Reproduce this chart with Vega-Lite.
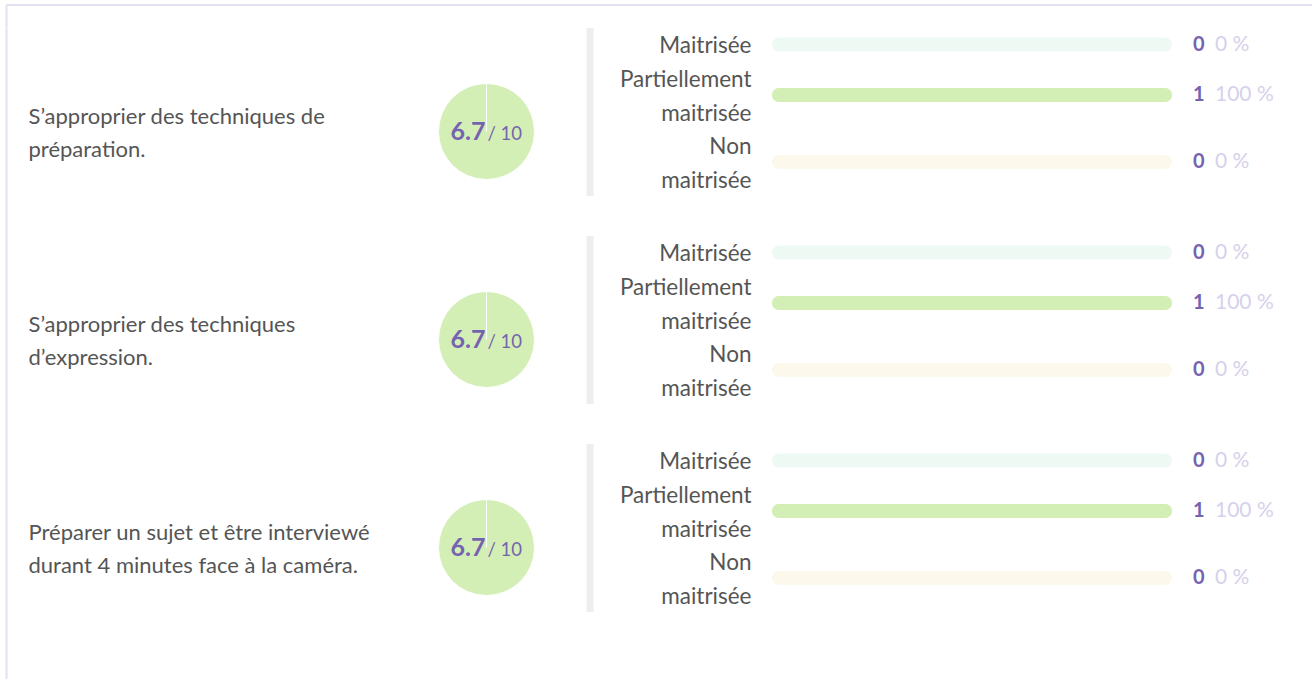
{
  "$schema": "https://vega.github.io/schema/vega-lite/v6.json",
  "background": "#ffffff",
  "padding": {"left": 6, "top": 4.5, "right": 0, "bottom": 0},
  "datasets": {
    "comp": [
      {"item": 1, "competence": "S’approprier des techniques de\npréparation.", "score": 6.7},
      {"item": 2, "competence": "S’approprier des techniques\nd’expression.", "score": 6.7},
      {"item": 3, "competence": "Préparer un sujet et être interviewé\ndurant 4 minutes face à la caméra.", "score": 6.7}
    ],
    "res": [
      {"item": 1, "niveau": "Maitrisée", "nombre": 0, "part": 0},
      {"item": 1, "niveau": "Partiellement maitrisée", "nombre": 1, "part": 1},
      {"item": 1, "niveau": "Non maitrisée", "nombre": 0, "part": 0},
      {"item": 2, "niveau": "Maitrisée", "nombre": 0, "part": 0},
      {"item": 2, "niveau": "Partiellement maitrisée", "nombre": 1, "part": 1},
      {"item": 2, "niveau": "Non maitrisée", "nombre": 0, "part": 0},
      {"item": 3, "niveau": "Maitrisée", "nombre": 0, "part": 0},
      {"item": 3, "niveau": "Partiellement maitrisée", "nombre": 1, "part": 1},
      {"item": 3, "niveau": "Non maitrisée", "nombre": 0, "part": 0}
    ]
  },
  "spacing": -2,
  "bounds": "full",
  "vconcat": [
    {"width": 1306, "height": 22.5, "data": {"name": "comp"}, "transform": [{"filter": "datum.item == 0"}],
     "mark": {"type": "point", "opacity": 0},
     "encoding": {
       "x": {"datum": 0, "type": "quantitative", "axis": {"orient": "top", "domainColor": "#e3e0f1", "domainWidth": 2, "ticks": false, "labels": false, "grid": false, "title": null}},
       "y": {"datum": 0, "type": "quantitative", "axis": {"orient": "left", "domainColor": "#e3e0f1", "domainWidth": 2, "ticks": false, "labels": false, "grid": false, "title": null}}}},
    {
      "spacing": 237.5, "bounds": "flush",
      "hconcat": [
        {"width": 195, "height": 208, "data": {"name": "comp"}, "transform": [{"filter": "datum.item == 1"}],
         "mark": {"type": "point", "opacity": 0},
         "encoding": {"y": {"field": "competence", "type": "nominal", "axis": {"orient": "left", "domainColor": "#e3e0f1", "domainWidth": 2, "ticks": false, "title": null, "labelAlign": "left", "labelPadding": -22, "labelOffset": -15.5, "labelBaseline": "middle", "labelFontSize": 22, "labelColor": "#555555", "labelLineHeight": 33, "labelLimit": 1000, "labelExpr": "split(datum.value, '\\n')"}}}},
        {
          "width": 96, "height": 208,
          "layer": [
            {"data": {"name": "res"}, "transform": [{"filter": "datum.item == 1"}],
             "mark": {"type": "arc", "radius": 48, "stroke": "#ffffff", "strokeWidth": 1},
             "encoding": {"theta": {"field": "nombre", "type": "quantitative"},
               "color": {"field": "niveau", "type": "nominal", "scale": {"domain": ["Maitrisée", "Partiellement maitrisée", "Non maitrisée"], "range": ["#bfe8d6", "#d4efb5", "#f8e7a8"]}, "legend": null}}},
            {"data": {"name": "comp"}, "transform": [{"filter": "datum.item == 1"}],
             "mark": {"type": "text", "align": "right", "baseline": "alphabetic", "dx": -1, "dy": 8.5, "fontSize": 25, "fontWeight": "bold", "color": "#7464b0"},
             "encoding": {"text": {"field": "score", "type": "quantitative", "format": ".1f"}}},
            {"data": {"name": "comp"}, "transform": [{"filter": "datum.item == 1"}],
             "mark": {"type": "text", "align": "left", "baseline": "alphabetic", "dx": 1, "dy": 8.5, "fontSize": 18.5, "color": "#7464b0", "text": "/ 10"},
             "encoding": {}}
          ]
        },
        {
          "spacing": 0, "bounds": "flush",
          "vconcat": [
            {"width": 400, "height": 34, "data": {"name": "res"}, "transform": [{"filter": "datum.item == 1 && datum.niveau == 'Maitrisée'"}],
             "encoding": {"y": {"field": "niveau", "type": "nominal", "axis": {"orient": "left", "offset": 182.5, "domainColor": "#eeeeee", "domainWidth": 7, "ticks": false, "title": null, "labelPadding": -161.5, "labelAlign": "right", "labelBaseline": "middle", "labelOffset": 1, "labelFontSize": 22.5, "labelColor": "#555555", "labelLineHeight": 33.5, "labelLimit": 1000, "labelExpr": "indexof(datum.value, ' ') < 0 ? datum.value : [slice(datum.value, 0, indexof(datum.value, ' ')) + '\u2009', slice(datum.value, indexof(datum.value, ' ') + 1)]"}}},
             "layer": [
               {"mark": {"type": "bar", "height": 14, "cornerRadius": 7}, "encoding": {"x": {"datum": 0, "type": "quantitative", "scale": {"domain": [0, 1], "nice": false}, "axis": null}, "x2": {"datum": 1}, "color": {"field": "niveau", "type": "nominal", "scale": {"domain": ["Maitrisée", "Partiellement maitrisée", "Non maitrisée"], "range": ["#eef9f4", "#eaf6dc", "#fcf9ec"]}, "legend": null}}},
               {"mark": {"type": "bar", "height": 14, "cornerRadius": 7}, "encoding": {"x": {"field": "part", "type": "quantitative", "stack": null, "axis": null}, "color": {"field": "niveau", "type": "nominal", "scale": {"domain": ["Maitrisée", "Partiellement maitrisée", "Non maitrisée"], "range": ["#bfe8d6", "#d4efb5", "#f8e7a8"]}, "legend": null}}},
               {"mark": {"type": "text", "align": "right", "baseline": "middle", "dx": 32.5, "fontSize": 20, "fontWeight": "bold", "color": "#7464b0"}, "encoding": {"x": {"datum": 1, "type": "quantitative", "axis": null}, "text": {"field": "nombre", "type": "quantitative"}}},
               {"mark": {"type": "text", "align": "left", "baseline": "middle", "dx": 43, "fontSize": 21, "color": "#d6d1ea"}, "encoding": {"x": {"datum": 1, "type": "quantitative", "axis": null}, "text": {"field": "part", "type": "quantitative", "format": ".0%"}}}
             ],
             "resolve": {"scale": {"color": "independent"}}},
            {"width": 400, "height": 67, "data": {"name": "res"}, "transform": [{"filter": "datum.item == 1 && datum.niveau == 'Partiellement maitrisée'"}],
             "encoding": {"y": {"field": "niveau", "type": "nominal", "axis": {"orient": "left", "offset": 182.5, "domainColor": "#eeeeee", "domainWidth": 7, "ticks": false, "title": null, "labelPadding": -161.5, "labelAlign": "right", "labelBaseline": "middle", "labelOffset": -14.75, "labelFontSize": 22.5, "labelColor": "#555555", "labelLineHeight": 33.5, "labelLimit": 1000, "labelExpr": "indexof(datum.value, ' ') < 0 ? datum.value : [slice(datum.value, 0, indexof(datum.value, ' ')) + '\u2009', slice(datum.value, indexof(datum.value, ' ') + 1)]"}}},
             "layer": [
               {"mark": {"type": "bar", "height": 14, "cornerRadius": 7}, "encoding": {"x": {"datum": 0, "type": "quantitative", "scale": {"domain": [0, 1], "nice": false}, "axis": null}, "x2": {"datum": 1}, "color": {"field": "niveau", "type": "nominal", "scale": {"domain": ["Maitrisée", "Partiellement maitrisée", "Non maitrisée"], "range": ["#eef9f4", "#eaf6dc", "#fcf9ec"]}, "legend": null}}},
               {"mark": {"type": "bar", "height": 14, "cornerRadius": 7}, "encoding": {"x": {"field": "part", "type": "quantitative", "stack": null, "axis": null}, "color": {"field": "niveau", "type": "nominal", "scale": {"domain": ["Maitrisée", "Partiellement maitrisée", "Non maitrisée"], "range": ["#bfe8d6", "#d4efb5", "#f8e7a8"]}, "legend": null}}},
               {"mark": {"type": "text", "align": "right", "baseline": "middle", "dx": 32.5, "fontSize": 20, "fontWeight": "bold", "color": "#7464b0"}, "encoding": {"x": {"datum": 1, "type": "quantitative", "axis": null}, "text": {"field": "nombre", "type": "quantitative"}}},
               {"mark": {"type": "text", "align": "left", "baseline": "middle", "dx": 43, "fontSize": 21, "color": "#d6d1ea"}, "encoding": {"x": {"datum": 1, "type": "quantitative", "axis": null}, "text": {"field": "part", "type": "quantitative", "format": ".0%"}}}
             ],
             "resolve": {"scale": {"color": "independent"}}},
            {"width": 400, "height": 67, "data": {"name": "res"}, "transform": [{"filter": "datum.item == 1 && datum.niveau == 'Non maitrisée'"}],
             "encoding": {"y": {"field": "niveau", "type": "nominal", "axis": {"orient": "left", "offset": 182.5, "domainColor": "#eeeeee", "domainWidth": 7, "ticks": false, "title": null, "labelPadding": -161.5, "labelAlign": "right", "labelBaseline": "middle", "labelOffset": -14.75, "labelFontSize": 22.5, "labelColor": "#555555", "labelLineHeight": 33.5, "labelLimit": 1000, "labelExpr": "indexof(datum.value, ' ') < 0 ? datum.value : [slice(datum.value, 0, indexof(datum.value, ' ')) + '\u2009', slice(datum.value, indexof(datum.value, ' ') + 1)]"}}},
             "layer": [
               {"mark": {"type": "bar", "height": 14, "cornerRadius": 7}, "encoding": {"x": {"datum": 0, "type": "quantitative", "scale": {"domain": [0, 1], "nice": false}, "axis": null}, "x2": {"datum": 1}, "color": {"field": "niveau", "type": "nominal", "scale": {"domain": ["Maitrisée", "Partiellement maitrisée", "Non maitrisée"], "range": ["#eef9f4", "#eaf6dc", "#fcf9ec"]}, "legend": null}}},
               {"mark": {"type": "bar", "height": 14, "cornerRadius": 7}, "encoding": {"x": {"field": "part", "type": "quantitative", "stack": null, "axis": null}, "color": {"field": "niveau", "type": "nominal", "scale": {"domain": ["Maitrisée", "Partiellement maitrisée", "Non maitrisée"], "range": ["#bfe8d6", "#d4efb5", "#f8e7a8"]}, "legend": null}}},
               {"mark": {"type": "text", "align": "right", "baseline": "middle", "dx": 32.5, "fontSize": 20, "fontWeight": "bold", "color": "#7464b0"}, "encoding": {"x": {"datum": 1, "type": "quantitative", "axis": null}, "text": {"field": "nombre", "type": "quantitative"}}},
               {"mark": {"type": "text", "align": "left", "baseline": "middle", "dx": 43, "fontSize": 21, "color": "#d6d1ea"}, "encoding": {"x": {"datum": 1, "type": "quantitative", "axis": null}, "text": {"field": "part", "type": "quantitative", "format": ".0%"}}}
             ],
             "resolve": {"scale": {"color": "independent"}}}
          ]
        }
      ]
    },
    {
      "spacing": 237.5, "bounds": "flush",
      "hconcat": [
        {"width": 195, "height": 208, "data": {"name": "comp"}, "transform": [{"filter": "datum.item == 2"}],
         "mark": {"type": "point", "opacity": 0},
         "encoding": {"y": {"field": "competence", "type": "nominal", "axis": {"orient": "left", "domainColor": "#e3e0f1", "domainWidth": 2, "ticks": false, "title": null, "labelAlign": "left", "labelPadding": -22, "labelOffset": -15.5, "labelBaseline": "middle", "labelFontSize": 22, "labelColor": "#555555", "labelLineHeight": 33, "labelLimit": 1000, "labelExpr": "split(datum.value, '\\n')"}}}},
        {
          "width": 96, "height": 208,
          "layer": [
            {"data": {"name": "res"}, "transform": [{"filter": "datum.item == 2"}],
             "mark": {"type": "arc", "radius": 48, "stroke": "#ffffff", "strokeWidth": 1},
             "encoding": {"theta": {"field": "nombre", "type": "quantitative"},
               "color": {"field": "niveau", "type": "nominal", "scale": {"domain": ["Maitrisée", "Partiellement maitrisée", "Non maitrisée"], "range": ["#bfe8d6", "#d4efb5", "#f8e7a8"]}, "legend": null}}},
            {"data": {"name": "comp"}, "transform": [{"filter": "datum.item == 2"}],
             "mark": {"type": "text", "align": "right", "baseline": "alphabetic", "dx": -1, "dy": 8.5, "fontSize": 25, "fontWeight": "bold", "color": "#7464b0"},
             "encoding": {"text": {"field": "score", "type": "quantitative", "format": ".1f"}}},
            {"data": {"name": "comp"}, "transform": [{"filter": "datum.item == 2"}],
             "mark": {"type": "text", "align": "left", "baseline": "alphabetic", "dx": 1, "dy": 8.5, "fontSize": 18.5, "color": "#7464b0", "text": "/ 10"},
             "encoding": {}}
          ]
        },
        {
          "spacing": 0, "bounds": "flush",
          "vconcat": [
            {"width": 400, "height": 34, "data": {"name": "res"}, "transform": [{"filter": "datum.item == 2 && datum.niveau == 'Maitrisée'"}],
             "encoding": {"y": {"field": "niveau", "type": "nominal", "axis": {"orient": "left", "offset": 182.5, "domainColor": "#eeeeee", "domainWidth": 7, "ticks": false, "title": null, "labelPadding": -161.5, "labelAlign": "right", "labelBaseline": "middle", "labelOffset": 1, "labelFontSize": 22.5, "labelColor": "#555555", "labelLineHeight": 33.5, "labelLimit": 1000, "labelExpr": "indexof(datum.value, ' ') < 0 ? datum.value : [slice(datum.value, 0, indexof(datum.value, ' ')) + '\u2009', slice(datum.value, indexof(datum.value, ' ') + 1)]"}}},
             "layer": [
               {"mark": {"type": "bar", "height": 14, "cornerRadius": 7}, "encoding": {"x": {"datum": 0, "type": "quantitative", "scale": {"domain": [0, 1], "nice": false}, "axis": null}, "x2": {"datum": 1}, "color": {"field": "niveau", "type": "nominal", "scale": {"domain": ["Maitrisée", "Partiellement maitrisée", "Non maitrisée"], "range": ["#eef9f4", "#eaf6dc", "#fcf9ec"]}, "legend": null}}},
               {"mark": {"type": "bar", "height": 14, "cornerRadius": 7}, "encoding": {"x": {"field": "part", "type": "quantitative", "stack": null, "axis": null}, "color": {"field": "niveau", "type": "nominal", "scale": {"domain": ["Maitrisée", "Partiellement maitrisée", "Non maitrisée"], "range": ["#bfe8d6", "#d4efb5", "#f8e7a8"]}, "legend": null}}},
               {"mark": {"type": "text", "align": "right", "baseline": "middle", "dx": 32.5, "fontSize": 20, "fontWeight": "bold", "color": "#7464b0"}, "encoding": {"x": {"datum": 1, "type": "quantitative", "axis": null}, "text": {"field": "nombre", "type": "quantitative"}}},
               {"mark": {"type": "text", "align": "left", "baseline": "middle", "dx": 43, "fontSize": 21, "color": "#d6d1ea"}, "encoding": {"x": {"datum": 1, "type": "quantitative", "axis": null}, "text": {"field": "part", "type": "quantitative", "format": ".0%"}}}
             ],
             "resolve": {"scale": {"color": "independent"}}},
            {"width": 400, "height": 67, "data": {"name": "res"}, "transform": [{"filter": "datum.item == 2 && datum.niveau == 'Partiellement maitrisée'"}],
             "encoding": {"y": {"field": "niveau", "type": "nominal", "axis": {"orient": "left", "offset": 182.5, "domainColor": "#eeeeee", "domainWidth": 7, "ticks": false, "title": null, "labelPadding": -161.5, "labelAlign": "right", "labelBaseline": "middle", "labelOffset": -14.75, "labelFontSize": 22.5, "labelColor": "#555555", "labelLineHeight": 33.5, "labelLimit": 1000, "labelExpr": "indexof(datum.value, ' ') < 0 ? datum.value : [slice(datum.value, 0, indexof(datum.value, ' ')) + '\u2009', slice(datum.value, indexof(datum.value, ' ') + 1)]"}}},
             "layer": [
               {"mark": {"type": "bar", "height": 14, "cornerRadius": 7}, "encoding": {"x": {"datum": 0, "type": "quantitative", "scale": {"domain": [0, 1], "nice": false}, "axis": null}, "x2": {"datum": 1}, "color": {"field": "niveau", "type": "nominal", "scale": {"domain": ["Maitrisée", "Partiellement maitrisée", "Non maitrisée"], "range": ["#eef9f4", "#eaf6dc", "#fcf9ec"]}, "legend": null}}},
               {"mark": {"type": "bar", "height": 14, "cornerRadius": 7}, "encoding": {"x": {"field": "part", "type": "quantitative", "stack": null, "axis": null}, "color": {"field": "niveau", "type": "nominal", "scale": {"domain": ["Maitrisée", "Partiellement maitrisée", "Non maitrisée"], "range": ["#bfe8d6", "#d4efb5", "#f8e7a8"]}, "legend": null}}},
               {"mark": {"type": "text", "align": "right", "baseline": "middle", "dx": 32.5, "fontSize": 20, "fontWeight": "bold", "color": "#7464b0"}, "encoding": {"x": {"datum": 1, "type": "quantitative", "axis": null}, "text": {"field": "nombre", "type": "quantitative"}}},
               {"mark": {"type": "text", "align": "left", "baseline": "middle", "dx": 43, "fontSize": 21, "color": "#d6d1ea"}, "encoding": {"x": {"datum": 1, "type": "quantitative", "axis": null}, "text": {"field": "part", "type": "quantitative", "format": ".0%"}}}
             ],
             "resolve": {"scale": {"color": "independent"}}},
            {"width": 400, "height": 67, "data": {"name": "res"}, "transform": [{"filter": "datum.item == 2 && datum.niveau == 'Non maitrisée'"}],
             "encoding": {"y": {"field": "niveau", "type": "nominal", "axis": {"orient": "left", "offset": 182.5, "domainColor": "#eeeeee", "domainWidth": 7, "ticks": false, "title": null, "labelPadding": -161.5, "labelAlign": "right", "labelBaseline": "middle", "labelOffset": -14.75, "labelFontSize": 22.5, "labelColor": "#555555", "labelLineHeight": 33.5, "labelLimit": 1000, "labelExpr": "indexof(datum.value, ' ') < 0 ? datum.value : [slice(datum.value, 0, indexof(datum.value, ' ')) + '\u2009', slice(datum.value, indexof(datum.value, ' ') + 1)]"}}},
             "layer": [
               {"mark": {"type": "bar", "height": 14, "cornerRadius": 7}, "encoding": {"x": {"datum": 0, "type": "quantitative", "scale": {"domain": [0, 1], "nice": false}, "axis": null}, "x2": {"datum": 1}, "color": {"field": "niveau", "type": "nominal", "scale": {"domain": ["Maitrisée", "Partiellement maitrisée", "Non maitrisée"], "range": ["#eef9f4", "#eaf6dc", "#fcf9ec"]}, "legend": null}}},
               {"mark": {"type": "bar", "height": 14, "cornerRadius": 7}, "encoding": {"x": {"field": "part", "type": "quantitative", "stack": null, "axis": null}, "color": {"field": "niveau", "type": "nominal", "scale": {"domain": ["Maitrisée", "Partiellement maitrisée", "Non maitrisée"], "range": ["#bfe8d6", "#d4efb5", "#f8e7a8"]}, "legend": null}}},
               {"mark": {"type": "text", "align": "right", "baseline": "middle", "dx": 32.5, "fontSize": 20, "fontWeight": "bold", "color": "#7464b0"}, "encoding": {"x": {"datum": 1, "type": "quantitative", "axis": null}, "text": {"field": "nombre", "type": "quantitative"}}},
               {"mark": {"type": "text", "align": "left", "baseline": "middle", "dx": 43, "fontSize": 21, "color": "#d6d1ea"}, "encoding": {"x": {"datum": 1, "type": "quantitative", "axis": null}, "text": {"field": "part", "type": "quantitative", "format": ".0%"}}}
             ],
             "resolve": {"scale": {"color": "independent"}}}
          ]
        }
      ]
    },
    {
      "spacing": 237.5, "bounds": "flush",
      "hconcat": [
        {"width": 195, "height": 208, "data": {"name": "comp"}, "transform": [{"filter": "datum.item == 3"}],
         "mark": {"type": "point", "opacity": 0},
         "encoding": {"y": {"field": "competence", "type": "nominal", "axis": {"orient": "left", "domainColor": "#e3e0f1", "domainWidth": 2, "ticks": false, "title": null, "labelAlign": "left", "labelPadding": -22, "labelOffset": -15.5, "labelBaseline": "middle", "labelFontSize": 22, "labelColor": "#555555", "labelLineHeight": 33, "labelLimit": 1000, "labelExpr": "split(datum.value, '\\n')"}}}},
        {
          "width": 96, "height": 208,
          "layer": [
            {"data": {"name": "res"}, "transform": [{"filter": "datum.item == 3"}],
             "mark": {"type": "arc", "radius": 48, "stroke": "#ffffff", "strokeWidth": 1},
             "encoding": {"theta": {"field": "nombre", "type": "quantitative"},
               "color": {"field": "niveau", "type": "nominal", "scale": {"domain": ["Maitrisée", "Partiellement maitrisée", "Non maitrisée"], "range": ["#bfe8d6", "#d4efb5", "#f8e7a8"]}, "legend": null}}},
            {"data": {"name": "comp"}, "transform": [{"filter": "datum.item == 3"}],
             "mark": {"type": "text", "align": "right", "baseline": "alphabetic", "dx": -1, "dy": 8.5, "fontSize": 25, "fontWeight": "bold", "color": "#7464b0"},
             "encoding": {"text": {"field": "score", "type": "quantitative", "format": ".1f"}}},
            {"data": {"name": "comp"}, "transform": [{"filter": "datum.item == 3"}],
             "mark": {"type": "text", "align": "left", "baseline": "alphabetic", "dx": 1, "dy": 8.5, "fontSize": 18.5, "color": "#7464b0", "text": "/ 10"},
             "encoding": {}}
          ]
        },
        {
          "spacing": 0, "bounds": "flush",
          "vconcat": [
            {"width": 400, "height": 34, "data": {"name": "res"}, "transform": [{"filter": "datum.item == 3 && datum.niveau == 'Maitrisée'"}],
             "encoding": {"y": {"field": "niveau", "type": "nominal", "axis": {"orient": "left", "offset": 182.5, "domainColor": "#eeeeee", "domainWidth": 7, "ticks": false, "title": null, "labelPadding": -161.5, "labelAlign": "right", "labelBaseline": "middle", "labelOffset": 1, "labelFontSize": 22.5, "labelColor": "#555555", "labelLineHeight": 33.5, "labelLimit": 1000, "labelExpr": "indexof(datum.value, ' ') < 0 ? datum.value : [slice(datum.value, 0, indexof(datum.value, ' ')) + '\u2009', slice(datum.value, indexof(datum.value, ' ') + 1)]"}}},
             "layer": [
               {"mark": {"type": "bar", "height": 14, "cornerRadius": 7}, "encoding": {"x": {"datum": 0, "type": "quantitative", "scale": {"domain": [0, 1], "nice": false}, "axis": null}, "x2": {"datum": 1}, "color": {"field": "niveau", "type": "nominal", "scale": {"domain": ["Maitrisée", "Partiellement maitrisée", "Non maitrisée"], "range": ["#eef9f4", "#eaf6dc", "#fcf9ec"]}, "legend": null}}},
               {"mark": {"type": "bar", "height": 14, "cornerRadius": 7}, "encoding": {"x": {"field": "part", "type": "quantitative", "stack": null, "axis": null}, "color": {"field": "niveau", "type": "nominal", "scale": {"domain": ["Maitrisée", "Partiellement maitrisée", "Non maitrisée"], "range": ["#bfe8d6", "#d4efb5", "#f8e7a8"]}, "legend": null}}},
               {"mark": {"type": "text", "align": "right", "baseline": "middle", "dx": 32.5, "fontSize": 20, "fontWeight": "bold", "color": "#7464b0"}, "encoding": {"x": {"datum": 1, "type": "quantitative", "axis": null}, "text": {"field": "nombre", "type": "quantitative"}}},
               {"mark": {"type": "text", "align": "left", "baseline": "middle", "dx": 43, "fontSize": 21, "color": "#d6d1ea"}, "encoding": {"x": {"datum": 1, "type": "quantitative", "axis": null}, "text": {"field": "part", "type": "quantitative", "format": ".0%"}}}
             ],
             "resolve": {"scale": {"color": "independent"}}},
            {"width": 400, "height": 67, "data": {"name": "res"}, "transform": [{"filter": "datum.item == 3 && datum.niveau == 'Partiellement maitrisée'"}],
             "encoding": {"y": {"field": "niveau", "type": "nominal", "axis": {"orient": "left", "offset": 182.5, "domainColor": "#eeeeee", "domainWidth": 7, "ticks": false, "title": null, "labelPadding": -161.5, "labelAlign": "right", "labelBaseline": "middle", "labelOffset": -14.75, "labelFontSize": 22.5, "labelColor": "#555555", "labelLineHeight": 33.5, "labelLimit": 1000, "labelExpr": "indexof(datum.value, ' ') < 0 ? datum.value : [slice(datum.value, 0, indexof(datum.value, ' ')) + '\u2009', slice(datum.value, indexof(datum.value, ' ') + 1)]"}}},
             "layer": [
               {"mark": {"type": "bar", "height": 14, "cornerRadius": 7}, "encoding": {"x": {"datum": 0, "type": "quantitative", "scale": {"domain": [0, 1], "nice": false}, "axis": null}, "x2": {"datum": 1}, "color": {"field": "niveau", "type": "nominal", "scale": {"domain": ["Maitrisée", "Partiellement maitrisée", "Non maitrisée"], "range": ["#eef9f4", "#eaf6dc", "#fcf9ec"]}, "legend": null}}},
               {"mark": {"type": "bar", "height": 14, "cornerRadius": 7}, "encoding": {"x": {"field": "part", "type": "quantitative", "stack": null, "axis": null}, "color": {"field": "niveau", "type": "nominal", "scale": {"domain": ["Maitrisée", "Partiellement maitrisée", "Non maitrisée"], "range": ["#bfe8d6", "#d4efb5", "#f8e7a8"]}, "legend": null}}},
               {"mark": {"type": "text", "align": "right", "baseline": "middle", "dx": 32.5, "fontSize": 20, "fontWeight": "bold", "color": "#7464b0"}, "encoding": {"x": {"datum": 1, "type": "quantitative", "axis": null}, "text": {"field": "nombre", "type": "quantitative"}}},
               {"mark": {"type": "text", "align": "left", "baseline": "middle", "dx": 43, "fontSize": 21, "color": "#d6d1ea"}, "encoding": {"x": {"datum": 1, "type": "quantitative", "axis": null}, "text": {"field": "part", "type": "quantitative", "format": ".0%"}}}
             ],
             "resolve": {"scale": {"color": "independent"}}},
            {"width": 400, "height": 67, "data": {"name": "res"}, "transform": [{"filter": "datum.item == 3 && datum.niveau == 'Non maitrisée'"}],
             "encoding": {"y": {"field": "niveau", "type": "nominal", "axis": {"orient": "left", "offset": 182.5, "domainColor": "#eeeeee", "domainWidth": 7, "ticks": false, "title": null, "labelPadding": -161.5, "labelAlign": "right", "labelBaseline": "middle", "labelOffset": -14.75, "labelFontSize": 22.5, "labelColor": "#555555", "labelLineHeight": 33.5, "labelLimit": 1000, "labelExpr": "indexof(datum.value, ' ') < 0 ? datum.value : [slice(datum.value, 0, indexof(datum.value, ' ')) + '\u2009', slice(datum.value, indexof(datum.value, ' ') + 1)]"}}},
             "layer": [
               {"mark": {"type": "bar", "height": 14, "cornerRadius": 7}, "encoding": {"x": {"datum": 0, "type": "quantitative", "scale": {"domain": [0, 1], "nice": false}, "axis": null}, "x2": {"datum": 1}, "color": {"field": "niveau", "type": "nominal", "scale": {"domain": ["Maitrisée", "Partiellement maitrisée", "Non maitrisée"], "range": ["#eef9f4", "#eaf6dc", "#fcf9ec"]}, "legend": null}}},
               {"mark": {"type": "bar", "height": 14, "cornerRadius": 7}, "encoding": {"x": {"field": "part", "type": "quantitative", "stack": null, "axis": null}, "color": {"field": "niveau", "type": "nominal", "scale": {"domain": ["Maitrisée", "Partiellement maitrisée", "Non maitrisée"], "range": ["#bfe8d6", "#d4efb5", "#f8e7a8"]}, "legend": null}}},
               {"mark": {"type": "text", "align": "right", "baseline": "middle", "dx": 32.5, "fontSize": 20, "fontWeight": "bold", "color": "#7464b0"}, "encoding": {"x": {"datum": 1, "type": "quantitative", "axis": null}, "text": {"field": "nombre", "type": "quantitative"}}},
               {"mark": {"type": "text", "align": "left", "baseline": "middle", "dx": 43, "fontSize": 21, "color": "#d6d1ea"}, "encoding": {"x": {"datum": 1, "type": "quantitative", "axis": null}, "text": {"field": "part", "type": "quantitative", "format": ".0%"}}}
             ],
             "resolve": {"scale": {"color": "independent"}}}
          ]
        }
      ]
    },
    {"width": 10, "height": 27, "data": {"name": "comp"}, "transform": [{"filter": "datum.item == 0"}],
     "mark": {"type": "point", "opacity": 0},
     "encoding": {
       "y": {"datum": 0, "type": "quantitative", "axis": {"orient": "left", "domainColor": "#e3e0f1", "domainWidth": 2, "ticks": false, "labels": false, "grid": false, "title": null}}}}
  ],
  "config": {
    "font": "Lato",
    "view": {"stroke": null},
    "axis": {"grid": false, "labelFont": "Lato"},
    "text": {"font": "Lato"},
    "locale": {"number": {"decimal": ".", "thousands": ",", "grouping": [3], "currency": ["", ""], "percent": "\u00a0%"}}
  }
}
